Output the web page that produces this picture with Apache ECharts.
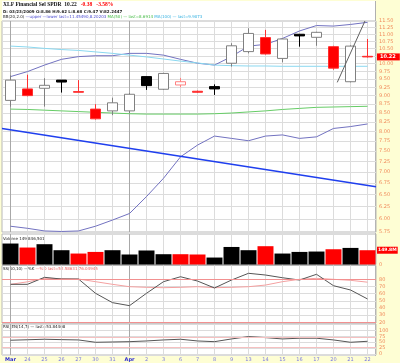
<!DOCTYPE html>
<html><head><meta charset="utf-8">
<script src="https://cdn.jsdelivr.net/npm/echarts@6/dist/echarts.min.js"></script>
<style>
html,body{margin:0;padding:0;background:#fefed4;width:400px;height:363px;overflow:hidden;}
#frame{position:absolute;left:2px;top:1px;width:374px;height:355px;background:#fff;border-right:1px solid #b0b0b0;box-sizing:border-box;}
#c{position:absolute;left:0;top:0;width:400px;height:363px;}
</style>
</head><body><div id="frame"></div><div id="c"></div>
<script>
const dates = ['2009-03-23','2009-03-24','2009-03-25','2009-03-26','2009-03-27','2009-03-30','2009-03-31','2009-04-01','2009-04-02','2009-04-03','2009-04-06','2009-04-07','2009-04-08','2009-04-09','2009-04-13','2009-04-14','2009-04-15','2009-04-16','2009-04-17','2009-04-20','2009-04-21','2009-04-22'];
const tickLabels = ['Mar','24','25','26','27','30','31','Apr','2','3','6','7','8','9','13','14','15','16','17','20','21','22'];
const openP  = [8.86, 9.20, 9.22, 9.47, 9.12, 8.61, 8.56, 8.56, 9.58, 9.19, 9.32, 9.13, 9.27, 10.01, 10.40, 10.89, 10.17, 11.01, 10.90, 10.57, 9.42, 10.24];
const highP  = [9.62, 9.64, 9.53, 9.47, 9.47, 8.75, 8.94, 9.08, 9.58, 9.70, 9.54, 9.15, 9.34, 10.69, 11.23, 11.17, 10.86, 11.02, 11.10, 10.60, 10.62, 10.84];
const lowP   = [8.68, 8.98, 8.68, 9.09, 9.09, 8.32, 8.44, 8.50, 9.17, 9.17, 9.25, 9.08, 9.02, 9.90, 10.34, 10.30, 10.04, 10.57, 10.60, 9.80, 9.40, 10.20];
const closeP = [9.47, 9.00, 9.31, 9.41, 9.10, 8.34, 8.79, 9.04, 9.30, 9.68, 9.42, 9.10, 9.20, 10.60, 11.04, 10.32, 10.84, 10.95, 11.08, 9.85, 10.59, 10.22];
const volumeM = [220, 178, 213, 150, 115, 132, 150, 105, 147, 108, 108, 105, 73, 184, 150, 192, 115, 132, 136, 160, 174, 149.8];
const bbUpper = [9.58, 9.74, 9.95, 10.14, 10.23, 10.26, 10.26, 10.34, 10.34, 10.28, 10.14, 10.01, 9.95, 10.23, 10.59, 10.65, 10.86, 11.13, 11.33, 11.31, 11.37, 11.45];
const bbLower = [5.86, 5.82, 5.77, 5.76, 5.77, 5.86, 5.98, 6.11, 6.46, 6.86, 7.36, 7.65, 7.88, 7.82, 7.76, 7.88, 7.91, 7.82, 7.86, 8.08, 8.13, 8.20];
const ma50  = [8.61, 8.60, 8.58, 8.56, 8.54, 8.52, 8.50, 8.48, 8.47, 8.47, 8.47, 8.47, 8.48, 8.50, 8.53, 8.56, 8.60, 8.63, 8.66, 8.67, 8.68, 8.69];
const ma100 = [10.59, 10.56, 10.51, 10.47, 10.44, 10.39, 10.34, 10.28, 10.22, 10.15, 10.08, 10.02, 9.95, 9.93, 9.92, 9.92, 9.91, 9.91, 9.91, 9.91, 9.91, 9.91];
const trendBlue = [[-0.5, 8.08], [21.5, 6.67]];
const trendGray = [[19.22, 9.40], [20.85, 11.5]];
const ssK = [73.0, 73.0, 82.8, 80.4, 80.4, 60.5, 47.4, 43.2, 60.5, 76.7, 83.6, 77.6, 67.9, 79.0, 88.4, 86.0, 82.2, 79.0, 87.0, 71.1, 65.1, 52.6];
const ssD = [73.0, 76.5, 81.4, 81.0, 80.4, 76.7, 73.0, 69.7, 68.8, 68.3, 68.8, 69.7, 68.3, 68.8, 69.7, 72.0, 76.7, 80.0, 81.4, 80.0, 78.6, 76.0];
const rsi = [58.3, 60.4, 62.6, 60.9, 59.6, 49.6, 50.9, 52.2, 55.2, 59.6, 62.6, 55.2, 52.2, 63.9, 73.9, 69.6, 63.9, 67.0, 67.0, 59.6, 49.6, 53.8];
const priceTicks = [5.75,6.00,6.25,6.50,6.75,7.00,7.25,7.50,7.75,8.00,8.25,8.50,8.75,9.00,9.25,9.50,9.75,10.00,10.25,10.50,10.75,11.00,11.25,11.50];
const ssTicks = [20,30,40,50,60,70,80];
const rsiTicks = [0,25,50,75,100];
const volTicks = [0];

const N = dates.length;
const RED = '#ff0000', BLK = '#000000';
const LBL = '#f08a5a';
const FONT = 'DejaVu Sans';

const candleData = openP.map((o, i) => {
  const c = closeP[i];
  const upDay = c >= o;
  const redDay = i > 0 && c < closeP[i-1];
  const edge = redDay ? (upDay ? '#ff8080' : '#ff3030') : (upDay ? '#808080' : BLK);
  const fill = upDay ? '#ffffff' : (redDay ? RED : BLK);
  return {value: [o, c, lowP[i], highP[i]], itemStyle: {color: fill, color0: fill, borderColor: edge, borderColor0: edge, borderWidth: 1}};
});
const volData = volumeM.map((v, i) => ({value: v, itemStyle: {color: (i > 0 && closeP[i] < closeP[i-1]) ? RED : BLK}}));

const vColors = dates.map((d, i) => (tickLabels[i] === 'Mar' || tickLabels[i] === 'Apr') ? '#a8a8a8' : '#dcdcdc');

const grids = [
  {left: 2, top: 21, width: 374, height: 211},
  {left: 2, top: 234, width: 374, height: 30.5},
  {left: 2, top: 265.5, width: 374, height: 57.5},
  {left: 2, top: 324, width: 374, height: 31}
].map(g => Object.assign(g, {show: true, borderColor: '#b8b8b8', borderWidth: 1, containLabel: false}));

function catAxis(gi, showLabels) {
  return {
    type: 'category', gridIndex: gi, data: dates, boundaryGap: true,
    axisLine: {show: false},
    axisTick: {show: false, alignWithLabel: true, interval: 0},
    splitLine: {show: true, interval: 0, alignWithLabel: true, lineStyle: {color: vColors, width: 1}},
    axisLabel: showLabels ? {
      show: true, interval: 0, margin: 2, fontSize: 5, fontFamily: FONT,
      formatter: (v, i) => (tickLabels[i] === 'Mar' || tickLabels[i] === 'Apr') ? '{m|' + tickLabels[i] + '}' : '{n|' + tickLabels[i] + '}',
      rich: {m: {fontSize: 5, fontWeight: 'bold', color: '#2a2ad0', fontFamily: FONT}, n: {fontSize: 5, color: '#7a7ae0', fontFamily: FONT}}
    } : {show: false}
  };
}
function valAxisRight(gi, extra, ticks, fmt) {
  return Object.assign({
    gridIndex: gi, position: 'right',
    axisLine: {show: false},
    axisTick: {show: false, customValues: ticks},
    axisLabel: {show: true, customValues: ticks, formatter: fmt, fontSize: 5, color: LBL, margin: 3, fontFamily: FONT},
    splitLine: {show: true, lineStyle: {color: '#dcdcdc', width: 1}}
  }, extra);
}
function lastLabel(txt, fs, pad) {
  return {show: true, position: 'end', distance: 1, formatter: () => txt, backgroundColor: RED, color: '#ffffff', opacity: 1,
    fontSize: fs, fontWeight: 'bold', padding: pad, fontFamily: FONT};
}

const option = {
  animation: false,
  backgroundColor: 'transparent',
  grid: grids,
  xAxis: [catAxis(0, false), catAxis(1, false), catAxis(2, false), catAxis(3, true),
    {type: 'value', gridIndex: 0, min: -0.5, max: N - 0.5, show: false}],
  yAxis: [
    valAxisRight(0, {type: 'log', min: 5.75, max: 11.5}, priceTicks, v => Number(v).toFixed(2)),
    valAxisRight(1, {type: 'value', min: 0, max: 320, splitLine: {show: false}}, volTicks, v => String(v)),
    valAxisRight(2, {type: 'value', min: 19, max: 99.3}, ssTicks, v => String(v)),
    valAxisRight(3, {type: 'value', min: -5, max: 128}, rsiTicks, v => String(v))
  ],
  series: [
    {type: 'candlestick', xAxisIndex: 0, yAxisIndex: 0, data: candleData, barWidth: 11, z: 5, clip: false,
      markLine: {silent: true, symbol: 'none', data: [{yAxis: closeP[N-1]}],
        lineStyle: {color: 'rgba(0,0,0,0)', width: 1}, label: lastLabel(closeP[N-1].toFixed(2), 5, [1, 4, 1, 3])}},
    {type: 'line', name: 'upper', xAxisIndex: 0, yAxisIndex: 0, data: bbUpper, symbol: 'none', lineStyle: {color: '#7272c0', width: 1}, z: 3},
    {type: 'line', name: 'lower', xAxisIndex: 0, yAxisIndex: 0, data: bbLower, symbol: 'none', lineStyle: {color: '#7272c0', width: 1}, z: 3},
    {type: 'line', name: 'MA(50)', xAxisIndex: 0, yAxisIndex: 0, data: ma50, symbol: 'none', lineStyle: {color: '#66cc66', width: 1}, z: 3},
    {type: 'line', name: 'MA(100)', xAxisIndex: 0, yAxisIndex: 0, data: ma100, symbol: 'none', lineStyle: {color: '#8ad8f0', width: 1}, z: 3},
    {type: 'line', name: 'trend', xAxisIndex: 4, yAxisIndex: 0, data: trendBlue, symbol: 'none', lineStyle: {color: '#1f3fee', width: 1.5}, z: 4},
    {type: 'line', name: 'trend2', xAxisIndex: 4, yAxisIndex: 0, data: trendGray, symbol: 'none', lineStyle: {color: '#606060', width: 1}, z: 6},
    {type: 'bar', name: 'Volume', xAxisIndex: 1, yAxisIndex: 1, data: volData, barCategoryGap: '6%', clip: false,
      markLine: {silent: true, symbol: 'none', data: [{yAxis: volumeM[N-1]}],
        lineStyle: {color: 'rgba(0,0,0,0)', width: 1}, label: lastLabel(volumeM[N-1].toFixed(1) + 'M', 4.5, [1, 1, 1, 1])}},
    {type: 'line', name: '%K', xAxisIndex: 2, yAxisIndex: 2, data: ssK, symbol: 'none', lineStyle: {color: '#555', width: 1}, z: 4,
      markLine: {silent: true, symbol: 'none', label: {show: false}, lineStyle: {color: '#f29090', width: 1, type: 'solid'}, data: [{yAxis: 80}, {yAxis: 20}]}},
    {type: 'line', name: '%D', xAxisIndex: 2, yAxisIndex: 2, data: ssD, symbol: 'none', lineStyle: {color: '#f4a0a0', width: 1}, z: 3},
    {type: 'line', name: 'RSI', xAxisIndex: 3, yAxisIndex: 3, data: rsi, symbol: 'none', lineStyle: {color: '#555', width: 1}, z: 4,
      markLine: {silent: true, symbol: 'none', label: {show: false}, lineStyle: {color: '#f6c0c0', width: 1, type: 'solid'}, data: [{yAxis: 70}, {yAxis: 30}]}}
  ],
  graphic: [
    {type: 'text', left: 3, top: 2, style: {text: '{a|XLF Financial Sel SPDR  10.22}{r|   -0.38   -3.58%}', rich: {
      a: {fontFamily: 'Liberation Serif', fontWeight: 'bold', fontSize: 5.5, fill: '#111'},
      r: {fontFamily: 'Liberation Serif', fontWeight: 'bold', fontSize: 5.5, fill: RED}}}},
    {type: 'text', left: 3, top: 9.5, style: {text: 'D: 03/23/2009 O:8.86 H:9.62 L:8.68 C:9.47 V:82.2447', font: 'bold 4px ' + FONT, fill: '#222'}},
    {type: 'text', left: 3, top: 15, style: {text: '{a|BB(20,2.0)}{b| —upper —lower last=11.45490,8.20203}{g| MA(50) — last=8.6914}{c| MA(100) — last=9.9073}', rich: {
      a: {fontFamily: FONT, fontSize: 4, fill: '#222'},
      b: {fontFamily: FONT, fontSize: 4, fill: '#4a4ad0'},
      g: {fontFamily: FONT, fontSize: 4, fill: '#44bb44'},
      c: {fontFamily: FONT, fontSize: 4, fill: '#33b0e0'}}}},
    {type: 'text', left: 3, top: 236.5, style: {text: 'Volume 149,846,501', font: '4px ' + FONT, fill: '#222'}},
    {type: 'text', left: 3, top: 267, style: {text: '{a|SS(10,10) —%K }{r|—%D last=52.58631,76.04945}', rich: {
      a: {fontFamily: FONT, fontSize: 4, fill: '#222'}, r: {fontFamily: FONT, fontSize: 4, fill: '#f06060'}}}},
    {type: 'text', left: 3, top: 325, style: {text: 'RSI_EN(14,7) — last=53.84408', font: '4px ' + FONT, fill: '#222'}}
  ]
};
const chart = echarts.init(document.getElementById('c'));
chart.setOption(option);
</script>
</body></html>
